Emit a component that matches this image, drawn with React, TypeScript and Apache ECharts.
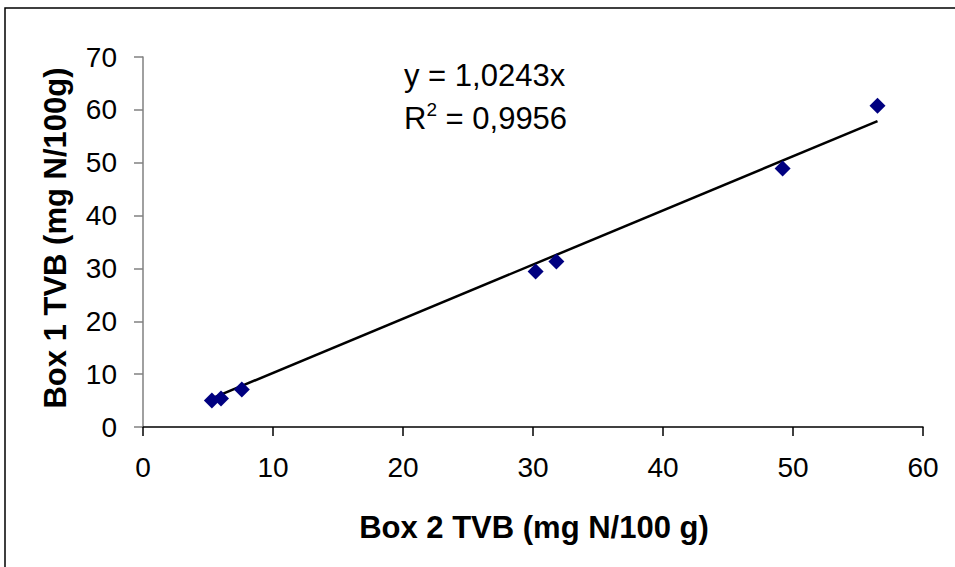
import React, { useEffect, useRef } from "react";
import * as echarts from "echarts";

const box2TVB = [5.3, 6.0, 7.6, 30.2, 31.8, 49.2, 56.5];
const box1TVB = [5.0, 5.4, 7.1, 29.4, 31.3, 48.9, 60.8];
const slope = 1.0243;
const xTicks = [0, 10, 20, 30, 40, 50, 60];
const yTicks = [0, 10, 20, 30, 40, 50, 60, 70];
const xTitle = "Box 2 TVB (mg N/100 g)";
const yTitle = "Box 1 TVB (mg N/100g)";
const eqLine = "y = 1,0243x";
const r2Value = "0,9956";

export default function App() {
  const ref = useRef<HTMLDivElement>(null);
  useEffect(() => {
    const chart = echarts.init(ref.current!, null, { renderer: "svg" });
    const pts = box2TVB.map((x, i) => [x, box1TVB[i]]);
    const xMin = Math.min(...box2TVB);
    const xMax = Math.max(...box2TVB);
    const font = "'Liberation Sans', Arial, sans-serif";
    chart.setOption({
      animation: false,
      backgroundColor: "#ffffff",
      grid: { left: 143, right: 32, top: 57, bottom: 140 },
      xAxis: {
        type: "value",
        min: xTicks[0],
        max: xTicks[xTicks.length - 1],
        interval: 10,
        splitLine: { show: false },
        axisLine: { onZero: false, lineStyle: { color: "#000000", width: 1.5 } },
        axisTick: { show: true, length: 9, lineStyle: { color: "#000000", width: 1.5 } },
        axisLabel: { fontFamily: font, fontSize: 28, color: "#000000", margin: 26 },
      },
      yAxis: {
        type: "value",
        min: yTicks[0],
        max: yTicks[yTicks.length - 1],
        interval: 10,
        splitLine: { show: false },
        axisLine: { lineStyle: { color: "#808080", width: 1.5 } },
        axisTick: { show: true, length: 9, lineStyle: { color: "#808080", width: 1.5 } },
        axisLabel: { fontFamily: font, fontSize: 28, color: "#000000", margin: 26 },
      },
      series: [
        {
          type: "line",
          data: [
            [xMin, slope * xMin],
            [xMax, slope * xMax],
          ],
          symbol: "none",
          lineStyle: { color: "#000000", width: 2.5 },
          z: 2,
        },
        {
          type: "scatter",
          data: pts,
          symbol: "diamond",
          symbolSize: 16,
          itemStyle: { color: "#000080", opacity: 1 },
          z: 3,
        },
      ],
      graphic: [
        {
          type: "rect",
          shape: { x: 5, y: 8, width: 980, height: 600 },
          style: { fill: "none", stroke: "#000000", lineWidth: 1.5 },
          silent: true,
        },
        {
          type: "text",
          x: 534,
          y: 527,
          style: {
            text: xTitle,
            font: `bold 31px ${font}`,
            fill: "#000000",
            align: "center",
            verticalAlign: "middle",
          },
        },
        {
          type: "text",
          x: 55,
          y: 238,
          rotation: Math.PI / 2,
          style: {
            text: yTitle,
            font: `bold 31px ${font}`,
            fill: "#000000",
            align: "center",
            verticalAlign: "middle",
          },
        },
        {
          type: "text",
          x: 404,
          y: 75,
          style: {
            text: eqLine,
            font: `31px ${font}`,
            fill: "#000000",
            align: "left",
            verticalAlign: "middle",
          },
        },
        {
          type: "text",
          x: 404,
          y: 117,
          style: {
            text: "{r|R}{s|2}{r| = " + r2Value + "}",
            fill: "#000000",
            align: "left",
            verticalAlign: "middle",
            rich: {
              r: { fontFamily: font, fontSize: 31, verticalAlign: "bottom", lineHeight: 34 },
              s: { fontFamily: font, fontSize: 19, verticalAlign: "top", lineHeight: 34 },
            },
          },
        },
      ],
    });
    return () => chart.dispose();
  }, []);
  return (
    <div
      ref={ref}
      style={{ position: "absolute", left: 0, top: 0, width: 955, height: 567 }}
    />
  );
}
